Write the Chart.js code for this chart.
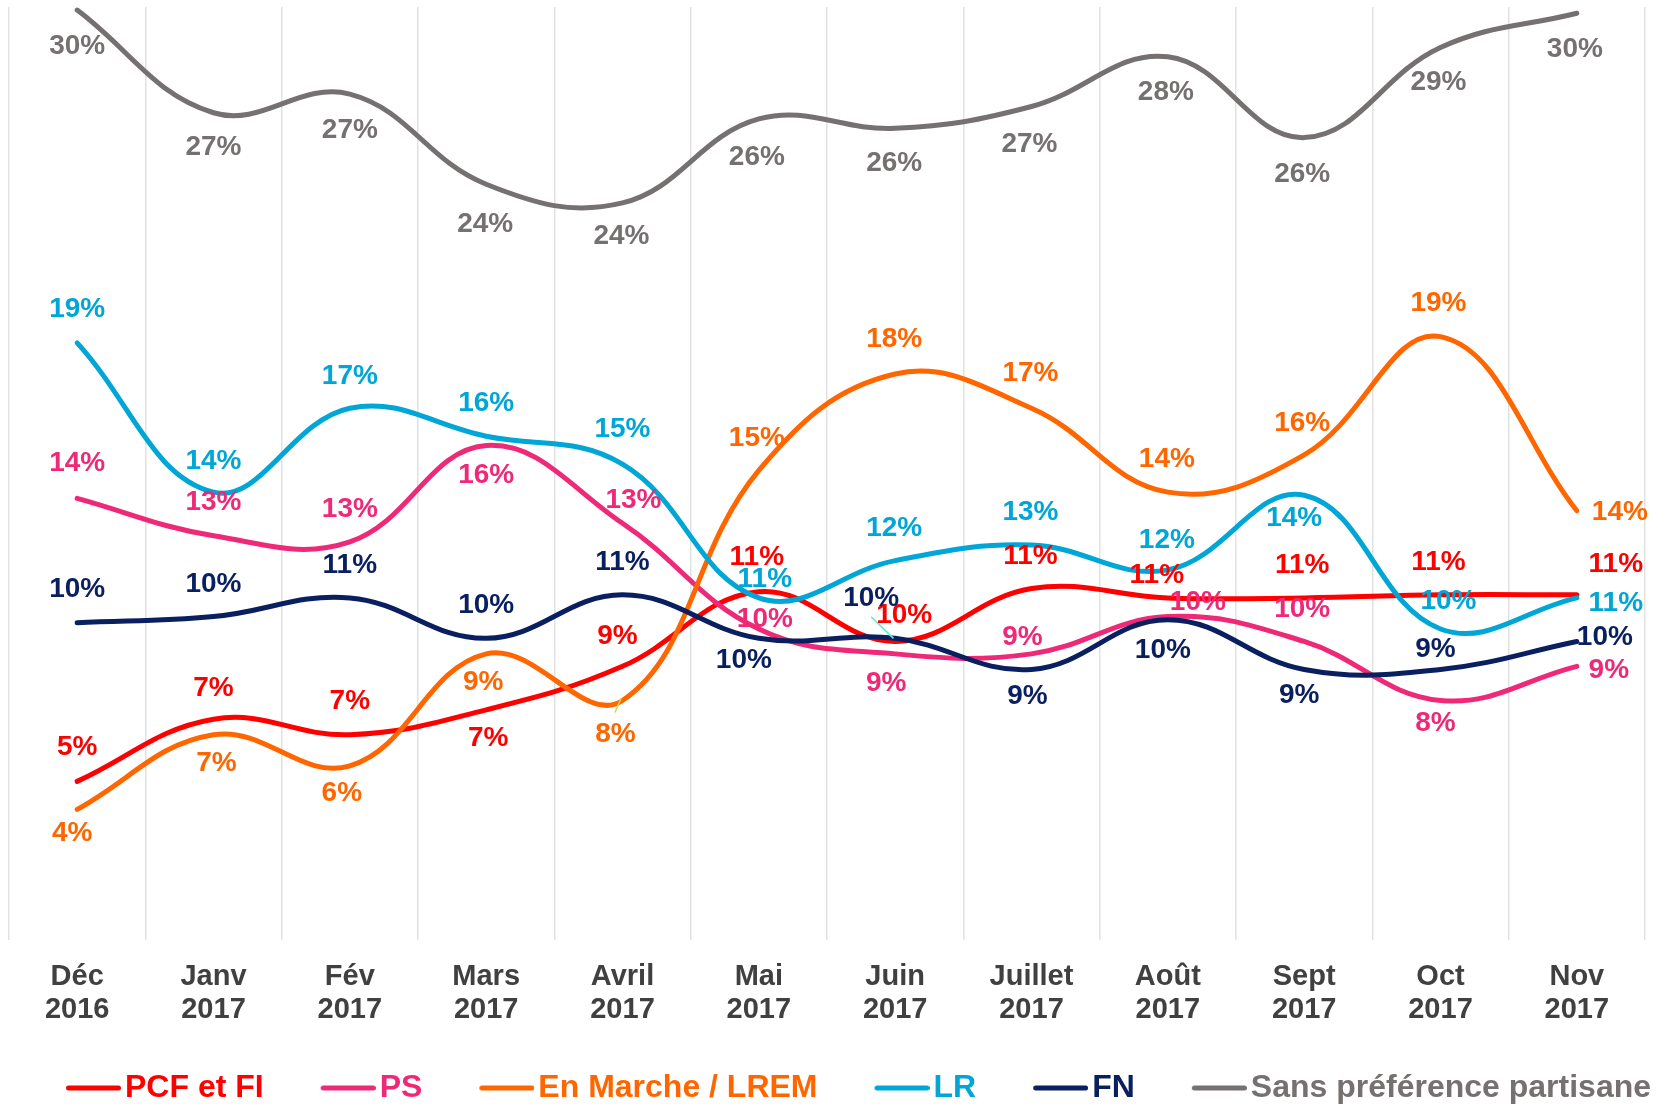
<!DOCTYPE html>
<html>
<head>
<meta charset="utf-8">
<script src="https://cdn.jsdelivr.net/npm/chart.js@4.4.0/dist/chart.umd.min.js"></script>
<style>
html,body{margin:0;padding:0;background:#ffffff;}
#wrap{width:1670px;height:1104px;position:relative;}
</style>
</head>
<body>
<div id="wrap"><canvas id="c" width="1670" height="1104"></canvas></div>
<script>
// ---- data ----
const months = [['Déc','2016'],['Janv','2017'],['Fév','2017'],['Mars','2017'],['Avril','2017'],['Mai','2017'],
                ['Juin','2017'],['Juillet','2017'],['Août','2017'],['Sept','2017'],['Oct','2017'],['Nov','2017']];
const seriesNames = ['PCF et FI','PS','En Marche / LREM','LR','FN','Sans préférence partisane'];
const pcfValues  = [5.1, 7.1, 6.6, 7.4, 8.8, 11.2, 9.6, 11.3, 11.0, 11.0, 11.1, 11.1];
const psValues   = [14.2, 13.0, 12.8, 15.9, 13.4, 10.0, 9.2, 9.2, 10.4, 9.6, 7.7, 8.8];
const emValues   = [4.2, 6.6, 5.6, 9.2, 7.7, 15.1, 18.2, 17.1, 14.4, 15.6, 19.4, 13.8];
const lrValues   = [19.2, 14.4, 17.1, 16.2, 15.3, 11.0, 12.2, 12.7, 11.9, 14.3, 10.0, 11.0];
const fnValues   = [10.2, 10.4, 11.0, 9.7, 11.1, 9.7, 9.7, 8.7, 10.3, 8.7, 8.7, 9.6];
const sansValues = [29.9, 26.6, 27.2, 24.3, 23.7, 26.4, 26.1, 26.8, 28.4, 25.8, 28.7, 29.8];

// ---- styles ----
const colors = ['#FF0000','#EE2A78','#FF6600','#00A6D6','#0A1F5F','#767171'];
const FONT = '"Liberation Sans", Arial, Helvetica, sans-serif';

// label placement relative to each point [dx, dy] (pixels)
const labelOffsets = [
  [[0,-34],[0,-31],[0,-33],[2,28],[-5,-30],[-2,-34],[9,-26],[-1,-32],[-11,-23],[-2,-33],[-2,-33],[39,-31]],
  [[0,-35],[0,-33],[0,-33],[0,30],[11,-23],[6,-10],[-9,29],[-9,-17],[30,-14],[-2,-32],[-5,23],[32,4]],
  [[-5,24],[3,29],[-8,27],[-3,28],[-7,34],[-2,-32],[-1,-35],[-1,-35],[-1,-33],[-2,-32],[-2,-33],[43,1]],
  [[0,-34],[0,-31],[0,-32],[0,-33],[0,-35],[6,-19],[-1,-32],[-1,-33],[-1,-30],[-10,23],[8,-28],[39,5]],
  [[0,-33],[0,-32],[0,-33],[0,-33],[0,-33],[-15,22],[-24,-40],[-4,27],[-5,31],[-5,26],[-5,-20],[28,-4]],
  [[0,36],[0,35],[0,36],[-1,40],[-1,33],[-2,38],[-1,35],[-2,38],[-2,36],[-2,37],[-2,35],[-2,36]]
];
// small leader lines: [series, point, from dx,dy, to dx,dy, colour]
const leaderLines = [
  [2, 4, -1.5, -2, -7.5, 12, '#C8DC5A'],
  [4, 6, -1.7, 0, -24, -21.6, '#5EEAD4']
];

const allValues = [pcfValues, psValues, emValues, lrValues, fnValues, sansValues];

function legendSwatch(color){
  const c = document.createElement('canvas');
  c.width = 123; c.height = 10;
  const g = c.getContext('2d');
  g.strokeStyle = color; g.lineWidth = 5; g.lineCap = 'round';
  g.beginPath(); g.moveTo(70.5, 5); g.lineTo(120.5, 5); g.stroke();
  return c;
}
const swatches = colors.map(legendSwatch);

const dataLabelPlugin = {
  id: 'pctLabels',
  afterDatasetsDraw(chart){
    const ctx = chart.ctx;
    ctx.save();
    leaderLines.forEach(([si, pi, x1, y1, x2, y2, col]) => {
      const pt = chart.getDatasetMeta(si).data[pi];
      ctx.strokeStyle = col; ctx.lineWidth = 1.6;
      ctx.beginPath(); ctx.moveTo(pt.x + x1, pt.y + y1); ctx.lineTo(pt.x + x2, pt.y + y2); ctx.stroke();
    });
    ctx.font = 'bold 28px ' + FONT;
    ctx.textAlign = 'center';
    ctx.textBaseline = 'middle';
    chart.data.datasets.forEach((ds, i) => {
      const meta = chart.getDatasetMeta(i);
      meta.data.forEach((pt, j) => {
        const off = labelOffsets[i][j];
        ctx.fillStyle = ds.borderColor;
        ctx.fillText(Math.round(ds.data[j]) + '%', pt.x + off[0], pt.y + off[1]);
      });
    });
    ctx.restore();
  }
};

const datasets = seriesNames.map((name, i) => ({
  label: name,
  data: allValues[i],
  borderColor: colors[i],
  backgroundColor: colors[i],
  borderWidth: 5,
  borderCapStyle: 'round',
  borderJoinStyle: 'round',
  pointRadius: 0,
  pointHoverRadius: 0,
  tension: 0.4,
  fill: false,
  order: 5 - i
}));

new Chart(document.getElementById('c'), {
  type: 'line',
  data: { labels: months, datasets },
  plugins: [dataLabelPlugin],
  options: {
    responsive: false,
    animation: false,
    devicePixelRatio: 1,
    layout: { padding: { top: 7, left: 9, right: 0, bottom: -10 } },
    scales: {
      x: {
        offset: true,
        grid: { offset: true, color: '#e2e2e2', lineWidth: 1.5, drawTicks: false },
        border: { display: false },
        ticks: {
          color: '#404040',
          padding: 21,
          maxRotation: 0,
          autoSkip: false,
          font: { family: FONT, size: 29, weight: 'bold', lineHeight: 1.12 }
        },
        afterFit(scale){ scale.height = 131; }
      },
      y: { display: false, min: 0, max: 30 },
      yRight: {
        position: 'right',
        display: true,
        min: 0, max: 1,
        grid: { display: false, drawTicks: false },
        border: { display: false },
        ticks: { display: false },
        afterFit(scale){ scale.width = 25; }
      }
    },
    plugins: {
      tooltip: { enabled: false },
      legend: {
        position: 'bottom',
        align: 'start',
        labels: {
          usePointStyle: true,
          pointStyleWidth: 99,
          padding: 1,
          font: { family: FONT, size: 32, weight: 'bold' },
          generateLabels(chart){
            return chart.data.datasets.map((ds, i) => ({
              text: ds.label,
              fontColor: ds.borderColor,
              pointStyle: swatches[i],
              fillStyle: 'rgba(0,0,0,0)',
              strokeStyle: 'rgba(0,0,0,0)',
              lineWidth: 0,
              hidden: false,
              datasetIndex: i
            }));
          }
        }
      }
    }
  }
});
</script>
</body>
</html>
